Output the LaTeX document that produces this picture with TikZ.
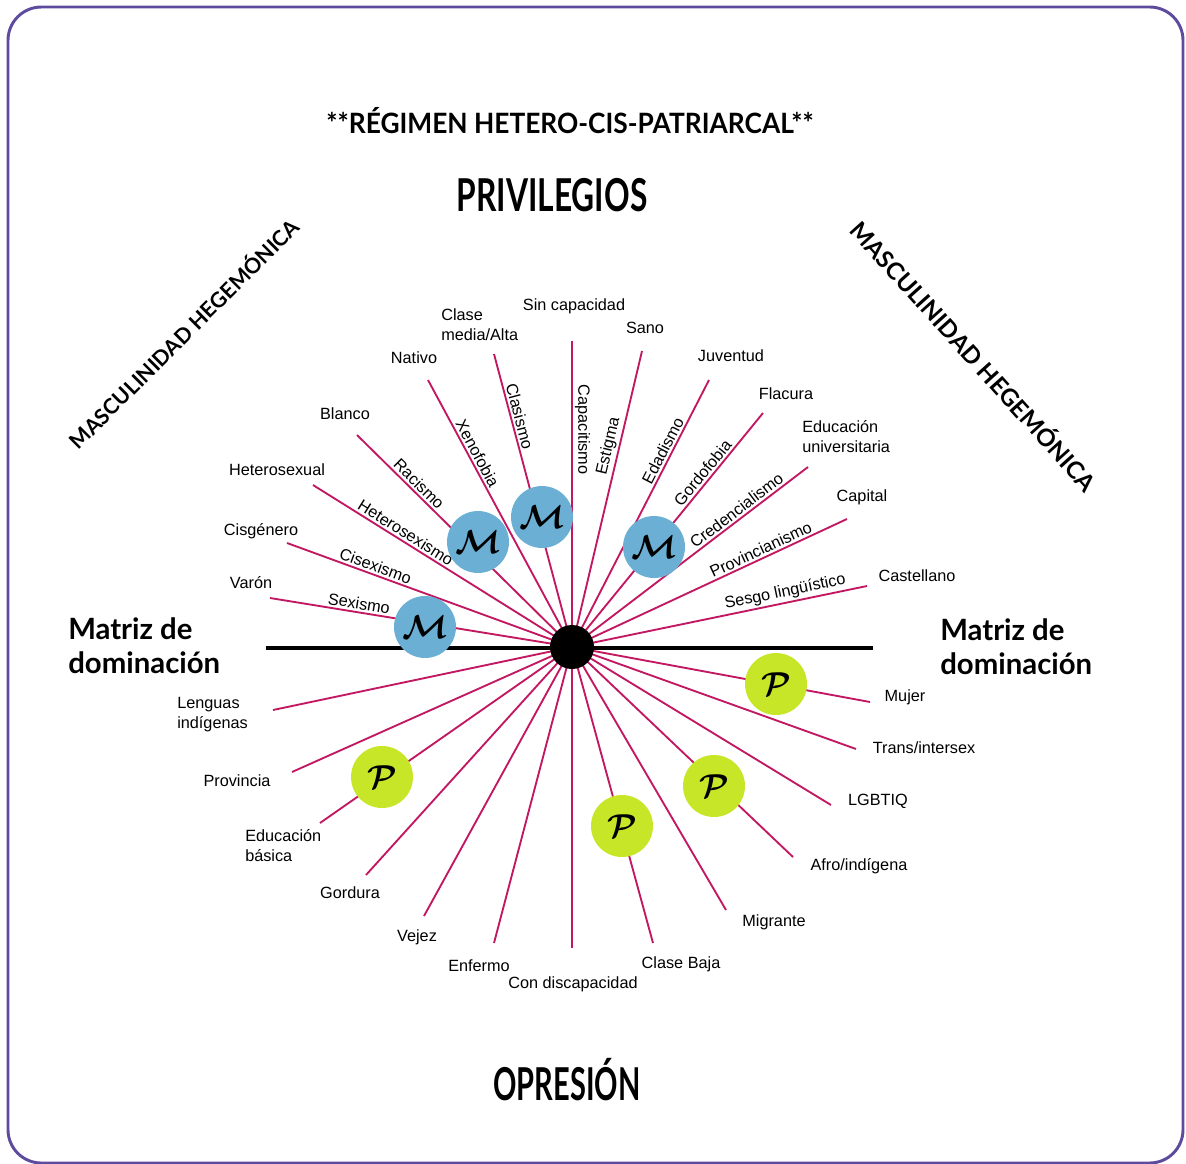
\documentclass[tikz,border=0pt]{standalone}
\usepackage{fontspec}
\setmainfont{Liberation Sans}
\newfontfamily\lato{Lato}
\definecolor{framec}{RGB}{94,75,158}
\definecolor{rayc}{RGB}{194,24,98}
\definecolor{mblue}{RGB}{107,176,212}
\definecolor{pgreen}{RGB}{200,230,40}
\begin{document}
\begin{tikzpicture}[x=0.75pt,y=-0.75pt,
  lbl/.style={font=\fontsize{12.2}{15}\selectfont, inner sep=0pt, align=left},
  rlbl/.style={font=\fontsize{12.2}{15}\selectfont, sloped, above, inner sep=1.5pt},
  ray/.style={draw=rayc, line width=1.4pt},
  mcirc/.style={circle, fill=mblue, minimum size=46.5pt, inner sep=0pt, font=\fontsize{26}{26}\selectfont\boldmath},
  pcirc/.style={circle, fill=pgreen, minimum size=46.5pt, inner sep=0pt, font=\fontsize{26}{26}\selectfont\boldmath},
  big/.style={font=\lato\bfseries\fontsize{34}{34}\selectfont, inner sep=0pt},
  matriz/.style={font=\lato\bfseries\fontsize{22}{25.5}\selectfont, align=left, inner sep=0pt, anchor=west},
  masc/.style={font=\lato\bfseries, inner sep=0pt}
]
\useasboundingbox (0,0) rectangle (1186,1164);
\draw[framec, line width=2.2pt, rounded corners=25pt] (8,7) rectangle (1183,1163);

% titles
\node[font=\lato\bfseries\fontsize{21}{24}\selectfont, inner sep=0pt] (title) at (570,121) {\scalebox{0.94}[1]{**RÉGIMEN HETERO-CIS-PATRIARCAL**}};
\node[big] (priv) at (552,195) {\scalebox{0.7}[1]{PRIVILEGIOS}};
\node[big] (opr) at (567,1080) {\scalebox{0.64}[1]{OPRESIÓN}};
\node[matriz] (matL) at (68,646) {Matriz de\\dominación};
\node[matriz] (matR) at (940,647) {Matriz de\\dominación};
\node[masc, rotate=45, font=\lato\bfseries\fontsize{16}{18}\selectfont] (mascL) at (183,333) {MASCULINIDAD HEGEMÓNICA};
\node[masc, rotate=-48, font=\lato\bfseries\fontsize{18}{20}\selectfont] (mascR) at (975,355) {MASCULINIDAD HEGEMÓNICA};

% centre and ray ends
\coordinate (c) at (572,647);
\coordinate (e1) at (270,598);
\coordinate (e2) at (287,543);
\coordinate (e3) at (313,485);
\coordinate (e4) at (357,435);
\coordinate (e5) at (428,380);
\coordinate (e6) at (494,354);
\coordinate (e7) at (572,341);
\coordinate (e8) at (642,351);
\coordinate (e9) at (709,380);
\coordinate (e10) at (763,413);
\coordinate (e11) at (808,467);
\coordinate (e12) at (847,519);
\coordinate (e13) at (867,586);
\coordinate (f1) at (273,710);
\coordinate (f2) at (292,772);
\coordinate (f3) at (320,823);
\coordinate (f4) at (366,875);
\coordinate (f5) at (424,916);
\coordinate (f6) at (494,943);
\coordinate (f7) at (572,948);
\coordinate (f8) at (653,943);
\coordinate (f9) at (726,910);
\coordinate (f10) at (793,857);
\coordinate (f11) at (831,805);
\coordinate (f12) at (856,749);
\coordinate (f13) at (870,702);

% end labels
\node[lbl] (lVaron) at (251,583) {Varón};
\node[lbl] (lCis) at (261,531) {Cisgénero};
\node[lbl] (lHet) at (277,470) {Heterosexual};
\node[lbl] (lBla) at (345,414) {Blanco};
\node[lbl] (lNat) at (414,358) {Nativo};
\node[lbl, anchor=west] (lCla) at (441,325) {Clase\\media/Alta};
\node[lbl] (lSin) at (574,306) {Sin capacidad};
\node[lbl] (lSano) at (645,328) {Sano};
\node[lbl] (lJuv) at (731,356) {Juventud};
\node[lbl] (lFla) at (786,394) {Flacura};
\node[lbl, anchor=west] (lEdu) at (802,437) {Educación\\universitaria};
\node[lbl] (lCap) at (862,497) {Capital};
\node[lbl] (lCas) at (917,576) {Castellano};
\node[lbl, anchor=west] (lLen) at (177,715) {Lenguas\\indígenas};
\node[lbl] (lPro) at (237,781) {Provincia};
\node[lbl, anchor=west] (lEdb) at (245,846) {Educación\\básica};
\node[lbl] (lGor) at (350,893) {Gordura};
\node[lbl] (lVej) at (417,937) {Vejez};
\node[lbl] (lEnf) at (479,966) {Enfermo};
\node[lbl] (lCon) at (573,984) {Con discapacidad};
\node[lbl] (lCB) at (681,964) {Clase Baja};
\node[lbl] (lMig) at (774,922) {Migrante};
\node[lbl] (lAfro) at (859,866) {Afro/indígena};
\node[lbl] (lLGB) at (878,801) {LGBTIQ};
\node[lbl] (lTra) at (924,748) {Trans/intersex};
\node[lbl] (lMuj) at (905,697) {Mujer};

% rays
\draw[ray] (e1) -- (c) node[rlbl, pos=.29] {Sexismo};
\draw[ray] (e2) -- (c) node[rlbl, pos=.30] {Cisexismo};
\draw[ray] (e3) -- (c) node[rlbl, pos=.34] {Heterosexismo};
\draw[ray] (e4) -- (c) node[rlbl, pos=.26] {Racismo};
\draw[ray] (e5) -- (c) node[rlbl, pos=.29] {Xenofobia};
\draw[ray] (e6) -- (c) node[rlbl, pos=.22] {Clasismo};
\draw[ray] (e7) -- (c) node[pos=.29, rotate=-90, anchor=south, inner sep=1.5pt, font=\fontsize{12.2}{15}\selectfont] {Capacitismo};
\draw[ray] (c) -- (e8) node[rlbl, pos=.67] {Estigma};
\draw[ray] (c) -- (e9) node[rlbl, pos=.72] {Edadismo};
\draw[ray] (c) -- (e10) node[rlbl, pos=.72] {Gordofobia};
\draw[ray] (c) -- (e11) node[rlbl, pos=.72] {Credencialismo};
\draw[ray] (c) -- (e12) node[rlbl, pos=.70] {Provincianismo};
\draw[ray] (c) -- (e13) node[rlbl, pos=.73] {Sesgo lingüístico};
\foreach \f in {f1,f2,f3,f4,f5,f6,f7,f8,f9,f10,f11,f12,f13}
  \draw[ray] (c) -- (\f);

% axis
\coordinate (axL) at (266,648);
\coordinate (axR) at (873,648);
\draw[black, line width=3pt] (axL) -- (axR);

% circles
\node[mcirc] (m1) at (425,627) {$\mathcal{M}$};
\node[mcirc] (m2) at (478,542) {$\mathcal{M}$};
\node[mcirc] (m3) at (542,517) {$\mathcal{M}$};
\node[mcirc] (m4) at (654,547) {$\mathcal{M}$};
\node[pcirc] (p1) at (776,684) {$\mathcal{P}$};
\node[pcirc] (p2) at (714,786) {$\mathcal{P}$};
\node[pcirc] (p3) at (622,826) {$\mathcal{P}$};
\node[pcirc] (p4) at (382,777) {$\mathcal{P}$};
\node[circle, fill=black, minimum size=33pt, inner sep=0pt] (C) at (c) {};
\end{tikzpicture}
\end{document}
